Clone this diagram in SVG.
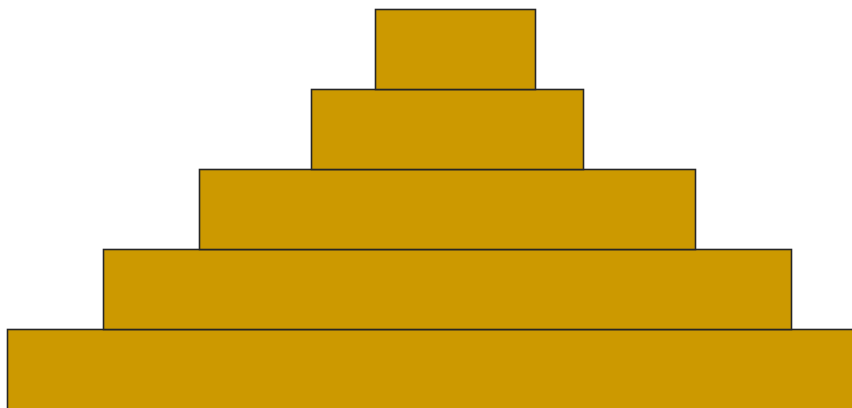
<svg xmlns="http://www.w3.org/2000/svg" width="852" height="408" viewBox="0 0 852 408">
<style>
.tier{fill:#cc9900;stroke:#262626;stroke-width:1.6}
</style>
<rect width="852" height="408" fill="#ffffff"/>
<g id="tier5"><rect class="tier" x="7.5" y="329.5" width="900" height="160"/></g>
<g id="tier4"><rect class="tier" x="103.5" y="249.5" width="688" height="80"/></g>
<g id="tier3"><rect class="tier" x="199.5" y="169.5" width="496" height="80"/></g>
<g id="tier2"><rect class="tier" x="311.5" y="89.5" width="272" height="80"/></g>
<g id="tier1"><rect class="tier" x="375.5" y="9.5" width="160" height="80"/></g>
<g id="connectors"></g>
</svg>
